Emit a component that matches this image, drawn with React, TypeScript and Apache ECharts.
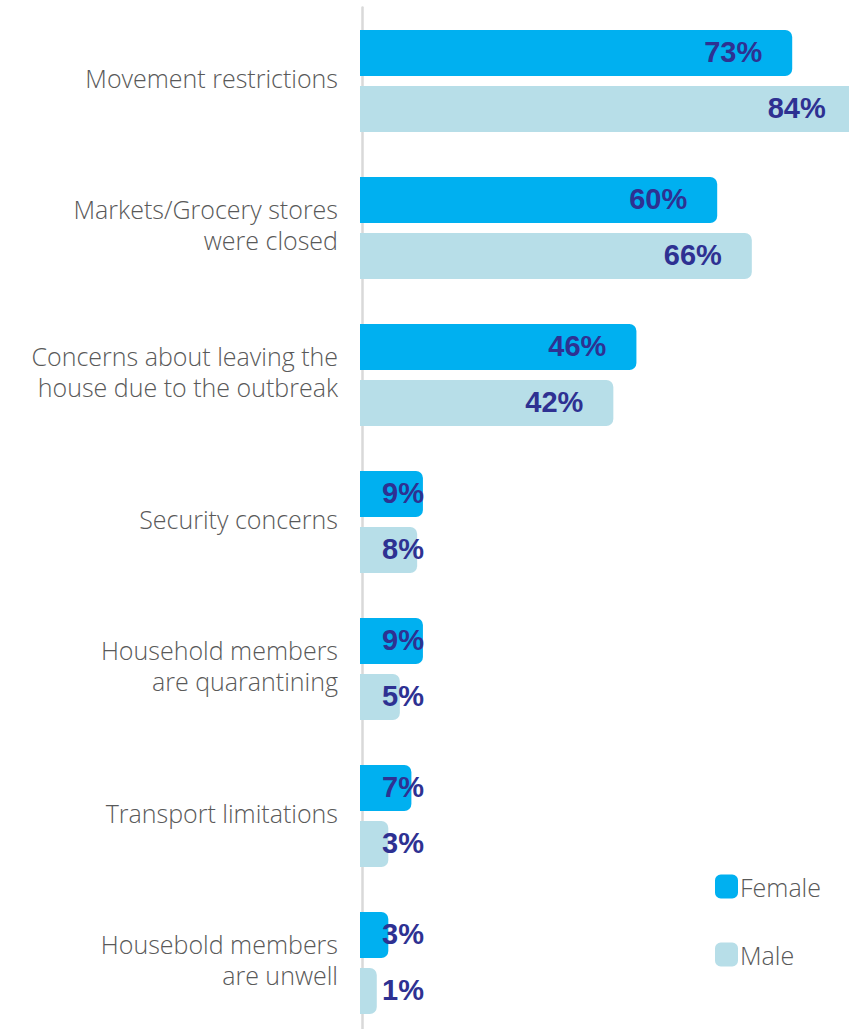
import React, { useEffect, useRef } from "react";
import * as echarts from "echarts";

const categories = [
  "Movement restrictions",
  "Markets/Grocery stores\nwere closed",
  "Concerns about leaving the\nhouse due to the outbreak",
  "Security concerns",
  "Household members\nare quarantining",
  "Transport limitations",
  "Housebold members\nare unwell",
];
const femaleValues = [73, 60, 46, 9, 9, 7, 3];
const maleValues = [84, 66, 42, 8, 5, 3, 1];
const seriesNames = ["Female", "Male"];

const FEMALE = "#00b0f0";
const MALE = "#b7dee8";
const LABEL = "#2e3192";
const TEXT = "#595959";

const BAR_H = 46;
const CAP = 11; // extra length of the rounded bar end, px

function makeRenderItem(color: string, yOffset: number) {
  return (params: any, api: any) => {
    const v = api.value(0);
    const cat = api.value(1);
    const start = api.coord([0, cat]);
    const end = api.coord([v, cat]);
    const x0 = start[0];
    const x1 = end[0] + CAP;
    const y = start[1] + yOffset;
    const text = v + "%";
    const small = v < 20;
    return {
      type: "group",
      children: [
        {
          type: "rect",
          shape: { x: x0, y, width: x1 - x0, height: BAR_H, r: [0, 7, 7, 0] },
          style: { fill: color },
        },
        {
          type: "text",
          style: {
            text,
            x: small ? x0 + 22 : x1 - 30,
            y: y + BAR_H / 2 - 1,
            align: small ? "left" : "right",
            verticalAlign: "middle",
            fill: LABEL,
            fontFamily: "Liberation Sans",
            fontWeight: "bold",
            fontSize: 29,
          },
        },
      ],
    };
  };
}

export default function App() {
  const ref = useRef<HTMLDivElement>(null);
  useEffect(() => {
    if (!ref.current) return;
    const chart = echarts.init(ref.current, null, { renderer: "svg" });
    chart.setOption({
      animation: false,
      grid: [
        { left: 360, top: 7.5, width: 577, height: 1029 },
        { left: 360, top: 4, width: 577, height: 1029 },
      ],
      xAxis: [
        { type: "value", min: 0, max: 100, show: false, gridIndex: 0 },
        { type: "value", min: 0, max: 100, show: false, gridIndex: 1 },
      ],
      yAxis: [
        {
          type: "category",
          gridIndex: 0,
          data: categories,
          inverse: true,
          offset: -2,
          axisLine: { show: true, lineStyle: { color: "#d9d9d9", width: 2.5 } },
          axisTick: { show: false },
          axisLabel: { show: false },
        },
        {
          type: "category",
          gridIndex: 1,
          data: categories,
          inverse: true,
          offset: -2,
          axisLine: { show: false },
          axisTick: { show: false },
          axisLabel: {
            margin: 24,
            color: TEXT,
            fontFamily: "Open Sans",
            fontWeight: 300,
            fontSize: 25,
            lineHeight: 31,
            align: "right",
          },
        },
      ],
      legend: {
        orient: "vertical",
        left: 715,
        top: 874,
        padding: 0,
        itemWidth: 23,
        itemHeight: 24,
        itemGap: 43,
        icon: "roundRect",
        textStyle: {
          color: TEXT,
          fontFamily: "Open Sans",
          fontWeight: 300,
          fontSize: 25,
          padding: [0, 0, 0, -3],
        },
        data: seriesNames,
      },
      series: [
        {
          name: seriesNames[0],
          type: "custom",
          xAxisIndex: 0,
          yAxisIndex: 0,
          itemStyle: { color: FEMALE },
          encode: { x: 0, y: 1 },
          renderItem: makeRenderItem(FEMALE, -51),
          data: femaleValues.map((v, i) => [v, i]),
        },
        {
          name: seriesNames[1],
          type: "custom",
          xAxisIndex: 0,
          yAxisIndex: 0,
          itemStyle: { color: MALE },
          encode: { x: 0, y: 1 },
          renderItem: makeRenderItem(MALE, 5),
          data: maleValues.map((v, i) => [v, i]),
        },
      ],
    });
    return () => chart.dispose();
  }, []);
  return (
    <div
      style={{
        position: "fixed",
        left: 0,
        top: 0,
        width: 849,
        height: 1029,
        overflow: "hidden",
        background: "#fff",
      }}
    >
      <div ref={ref} style={{ width: 960, height: 1045 }} />
    </div>
  );
}
